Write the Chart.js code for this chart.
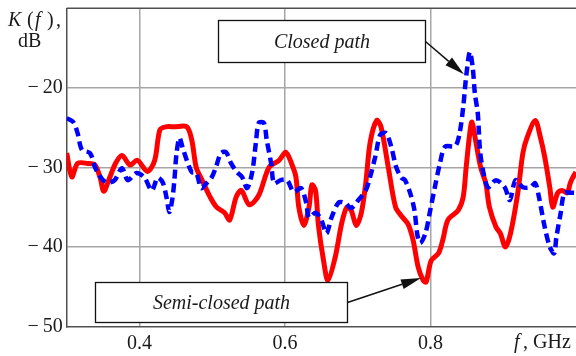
<!DOCTYPE html>
<html>
<head>
<meta charset="utf-8">
<script src="https://cdn.jsdelivr.net/npm/chart.js@4/dist/chart.umd.min.js"></script>
<style>
  html, body { margin: 0; padding: 0; background: #fff; }
  #wrap { width: 576px; height: 356px; position: relative; }
</style>
</head>
<body>
<div id="wrap"><canvas id="c"></canvas></div>
<script>
// Transfer coefficient K(f), dB, for two propagation paths
const semiClosedFreq = [0.300,0.307,0.315,0.329,0.339,0.346,0.351,0.359,0.367,0.376,0.387,0.397,0.411,0.421,0.428,0.436,0.448,0.465,0.472,0.478,0.486,0.497,0.506,0.517,0.524,0.533,0.540,0.551,0.564,0.578,0.592,0.601,0.609,0.615,0.619,0.626,0.633,0.637,0.642,0.646,0.653,0.659,0.669,0.678,0.685,0.691,0.698,0.705,0.711,0.717,0.726,0.732,0.742,0.752,0.760,0.769,0.776,0.783,0.790,0.794,0.801,0.811,0.817,0.824,0.838,0.845,0.849,0.854,0.857,0.862,0.869,0.876,0.881,0.890,0.896,0.903,0.910,0.920,0.927,0.933,0.944,0.951,0.957,0.964,0.968,0.975,0.981,0.988,0.992,0.996,1.000];
const semiClosedDb = [-28.2,-31.2,-29.5,-29.5,-29.7,-31.3,-33.0,-31.3,-29.5,-28.5,-29.7,-29.1,-30.5,-29.1,-25.3,-24.9,-24.9,-24.9,-26.6,-30.0,-31.6,-33.7,-35.0,-35.7,-36.6,-33.7,-32.9,-34.7,-33.5,-30.0,-29.1,-28.1,-29.5,-31.2,-35.0,-37.3,-35.0,-32.2,-32.9,-37.3,-41.7,-44.2,-41.3,-37.0,-35.0,-35.4,-37.3,-35.7,-32.0,-26.9,-24.1,-24.9,-30.0,-35.0,-36.1,-37.1,-39.1,-42.5,-44.2,-44.4,-41.7,-40.8,-39.1,-36.6,-35.4,-33.7,-30.0,-25.7,-24.3,-26.6,-30.0,-32.0,-35.0,-37.5,-38.3,-40.0,-38.3,-33.2,-28.2,-26.2,-24.1,-26.2,-28.7,-32.5,-35.0,-33.2,-32.9,-33.2,-32.0,-31.2,-30.6];

const closedFreq = [0.300,0.309,0.315,0.321,0.332,0.339,0.343,0.350,0.357,0.366,0.376,0.384,0.396,0.407,0.417,0.425,0.432,0.437,0.441,0.445,0.448,0.451,0.455,0.459,0.465,0.472,0.478,0.485,0.492,0.499,0.505,0.512,0.519,0.526,0.534,0.541,0.548,0.555,0.560,0.564,0.571,0.575,0.581,0.585,0.594,0.603,0.612,0.622,0.629,0.633,0.642,0.650,0.657,0.664,0.674,0.683,0.691,0.701,0.711,0.717,0.724,0.731,0.739,0.746,0.753,0.760,0.765,0.772,0.778,0.782,0.786,0.793,0.799,0.806,0.813,0.820,0.834,0.840,0.845,0.849,0.854,0.858,0.861,0.865,0.868,0.872,0.879,0.890,0.902,0.909,0.917,0.927,0.937,0.944,0.949,0.957,0.964,0.970,0.973,0.979,0.984,0.992,1.000];
const closedDb = [-23.8,-24.3,-25.7,-27.8,-28.2,-30.0,-30.7,-31.6,-31.9,-31.6,-30.1,-31.6,-30.7,-31.3,-32.9,-31.3,-31.9,-33.7,-35.6,-34.1,-31.6,-28.2,-26.3,-27.4,-29.1,-30.6,-30.7,-32.6,-32.0,-31.3,-30.0,-28.2,-28.1,-29.5,-30.6,-31.2,-32.6,-30.6,-26.9,-24.4,-24.4,-26.6,-29.5,-32.0,-31.6,-31.6,-33.1,-32.6,-34.4,-36.3,-35.7,-36.6,-38.3,-36.3,-34.4,-34.5,-35.1,-34.1,-32.9,-31.2,-28.7,-25.9,-25.7,-27.4,-30.0,-31.3,-31.6,-33.2,-35.4,-38.5,-39.5,-38.3,-35.7,-32.5,-29.5,-27.4,-27.3,-25.7,-22.4,-18.6,-15.5,-17.4,-20.7,-23.2,-27.8,-30.3,-32.5,-31.6,-32.5,-34.1,-31.6,-32.5,-32.5,-32.0,-33.7,-37.5,-40.0,-40.8,-38.8,-35.7,-33.2,-33.2,-33.2];

const freqTicks = [0.3, 0.4, 0.6, 0.8, 1.0];
const freqLabels = ['', '0.4', '0.6', '0.8', ''];
const levelTicks = [-50, -40, -30, -20, -10];
const levelLabels = ['\u2212\u200950', '\u2212\u200940', '\u2212\u200930', '\u2212\u200920', ''];

// Callout captions and the point on each curve they refer to (GHz, dB)
const calloutTexts = ['Closed path', 'Semi-closed path'];
const calloutTargets = [[0.846, -18.3], [0.787, -43.9]];

const toPoints = (xs, ys) => xs.map((x, i) => ({ x: x, y: ys[i] }));

const SERIF = '"Liberation Serif", "Times New Roman", serif';
const INK = '#1a1a1a';

// Callout boxes in canvas pixels: [left, top, right, bottom]
const calloutBoxes = [[218.5, 20.5, 425.5, 62.5], [95.5, 282.5, 347.5, 322.5]];

const decorations = {
  id: 'decorations',
  afterDraw(chart) {
    const { ctx, chartArea: a, scales } = chart;
    ctx.save();

    // top frame line
    ctx.strokeStyle = '#505050';
    ctx.lineWidth = 1.5;
    ctx.beginPath();
    ctx.moveTo(a.left, a.top);
    ctx.lineTo(a.right, a.top);
    ctx.stroke();

    // callouts with arrows
    calloutBoxes.forEach((b, i) => {
      const [l, t, r, bt] = b;
      ctx.fillStyle = '#fff';
      ctx.fillRect(l, t, r - l, bt - t);
      ctx.strokeStyle = '#111';
      ctx.lineWidth = 1.3;
      ctx.strokeRect(l, t, r - l, bt - t);
      ctx.fillStyle = INK;
      ctx.font = 'italic 20px ' + SERIF;
      ctx.textAlign = 'center';
      ctx.textBaseline = 'middle';
      ctx.fillText(calloutTexts[i], (l + r) / 2, (t + bt) / 2 + 1);

      const sx = r, sy = (t + bt) / 2;
      const tx = scales.x.getPixelForValue(calloutTargets[i][0]);
      const ty = scales.y.getPixelForValue(calloutTargets[i][1]);
      const ang = Math.atan2(ty - sy, tx - sx);
      const hl = 20, hw = 5;
      const bx = tx - hl * Math.cos(ang), by = ty - hl * Math.sin(ang);
      ctx.strokeStyle = '#111';
      ctx.lineWidth = 1.5;
      ctx.beginPath();
      ctx.moveTo(sx, sy);
      ctx.lineTo(bx, by);
      ctx.stroke();
      ctx.fillStyle = '#111';
      ctx.beginPath();
      ctx.moveTo(tx, ty);
      ctx.lineTo(bx + hw * Math.sin(ang), by - hw * Math.cos(ang));
      ctx.lineTo(bx - hw * Math.sin(ang), by + hw * Math.cos(ang));
      ctx.closePath();
      ctx.fill();
    });

    // axis titles
    ctx.fillStyle = INK;
    ctx.textAlign = 'left';
    ctx.textBaseline = 'alphabetic';
    const pieces = [['K', 8, true], ['(', 27, false], ['f', 35, true], [')', 47, false], [',', 56, false]];
    pieces.forEach(([s, x, it]) => {
      ctx.font = (it ? 'italic ' : '') + '20px ' + SERIF;
      ctx.fillText(s, x, 26);
    });
    ctx.font = '20px ' + SERIF;
    ctx.fillText('dB', 18, 47);

    ctx.font = 'italic 20px ' + SERIF;
    ctx.fillText('f', 514, 348);
    ctx.font = '20px ' + SERIF;
    ctx.fillText(',', 523, 348);
    ctx.fillText('GHz', 533, 348);

    ctx.restore();
  }
};

new Chart(document.getElementById('c'), {
  type: 'line',
  data: {
    datasets: [
      {
        label: 'Closed path',
        data: toPoints(closedFreq, closedDb),
        borderColor: '#0000ff',
        borderWidth: 4.5,
        borderDash: [9, 5],
        borderCapStyle: 'butt',
        pointRadius: 0,
        tension: 0.3,
        fill: false
      },
      {
        label: 'Semi-closed path',
        data: toPoints(semiClosedFreq, semiClosedDb),
        borderColor: '#ff0000',
        borderWidth: 5,
        borderJoinStyle: 'round',
        pointRadius: 0,
        tension: 0.3,
        fill: false
      }
    ]
  },
  options: {
    responsive: true,
    maintainAspectRatio: false,
    animation: false,
    events: [],
    layout: { padding: { top: 8.3, right: 0, left: 0, bottom: 0 } },
    plugins: { legend: { display: false }, tooltip: { enabled: false } },
    scales: {
      x: {
        type: 'linear',
        min: 0.3,
        max: 1.0,
        afterBuildTicks: (s) => { s.ticks = freqTicks.map(v => ({ value: v })); },
        afterFit: (s) => { s.height = 29.5; s.paddingLeft = 0; s.paddingRight = 0; },
        ticks: {
          autoSkip: false,
          maxRotation: 0,
          padding: 5,
          color: INK,
          font: { family: SERIF, size: 20 },
          callback: (v, i) => freqLabels[i]
        },
        grid: {
          drawTicks: false,
          color: (c) => (c.tick && (c.tick.value <= 0.3 || c.tick.value >= 1.0)) ? 'rgba(0,0,0,0)' : '#a6a6a6',
          lineWidth: 1.5
        },
        border: { display: true, color: '#505050', width: 1.5 }
      },
      y: {
        min: -50,
        max: -10,
        afterBuildTicks: (s) => { s.ticks = levelTicks.map(v => ({ value: v })); },
        afterFit: (s) => { s.width = 66.7; s.paddingTop = 0; s.paddingBottom = 0; },
        ticks: {
          padding: 4,
          color: INK,
          font: { family: SERIF, size: 20 },
          callback: (v, i) => levelLabels[i]
        },
        grid: {
          drawTicks: false,
          color: (c) => (c.tick && (c.tick.value <= -50 || c.tick.value >= -10)) ? 'rgba(0,0,0,0)' : '#a6a6a6',
          lineWidth: 1.5
        },
        border: { display: true, color: '#505050', width: 1.5 }
      }
    }
  },
  plugins: [decorations]
});
</script>
</body>
</html>
